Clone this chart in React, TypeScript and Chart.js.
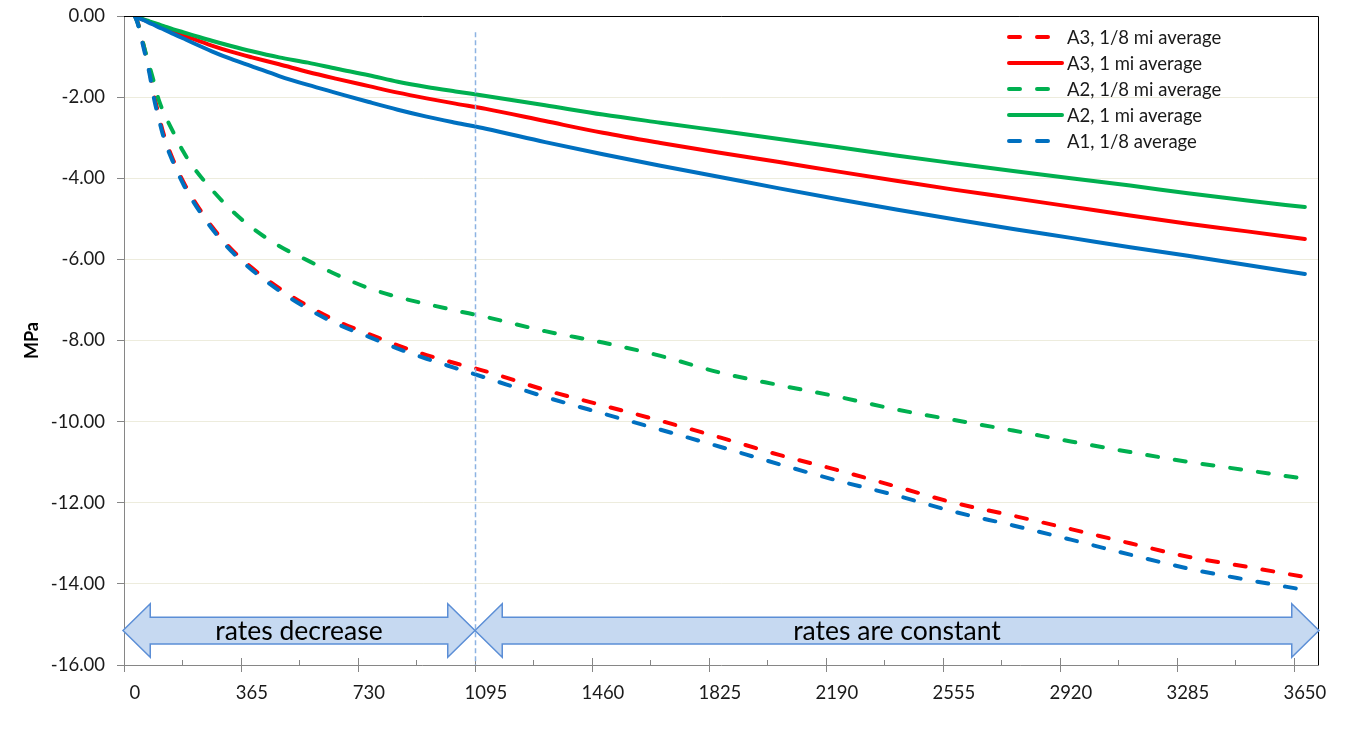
import React, { useEffect, useRef } from "react";
import { Chart, registerables } from "chart.js";

Chart.register(...registerables);

// ---- data (days since start, MPa) ----
const DAYS = [0, 10, 20, 30, 45, 60, 75, 90, 120, 150, 180, 240, 300, 365, 450, 540, 630, 730, 820, 910, 1000, 1095, 1280, 1460, 1640, 1825, 2010, 2190, 2375, 2555, 2740, 2920, 3105, 3285, 3470, 3650];

const A3_EIGHTH = [0, -0.18, -0.5, -0.82, -1.33, -1.95, -2.47, -2.92, -3.56, -4.07, -4.49, -5.19, -5.74, -6.21, -6.71, -7.15, -7.52, -7.84, -8.12, -8.36, -8.56, -8.76, -9.22, -9.6, -9.98, -10.39, -10.82, -11.19, -11.6, -12.0, -12.32, -12.65, -13.0, -13.33, -13.58, -13.83];
const A3_MILE = [0, -0.03, -0.07, -0.1, -0.15, -0.2, -0.25, -0.29, -0.38, -0.47, -0.56, -0.73, -0.88, -1.02, -1.19, -1.38, -1.55, -1.73, -1.89, -2.03, -2.16, -2.29, -2.59, -2.88, -3.13, -3.37, -3.6, -3.83, -4.06, -4.28, -4.49, -4.7, -4.92, -5.12, -5.31, -5.5];
const A2_EIGHTH = [0, -0.2, -0.5, -0.8, -1.22, -1.65, -2.08, -2.38, -2.87, -3.33, -3.7, -4.28, -4.78, -5.22, -5.67, -6.03, -6.38, -6.71, -6.93, -7.1, -7.26, -7.42, -7.77, -8.05, -8.38, -8.79, -9.1, -9.38, -9.7, -9.96, -10.22, -10.49, -10.75, -10.99, -11.2, -11.41];
const A2_MILE = [0, -0.03, -0.06, -0.09, -0.13, -0.17, -0.21, -0.25, -0.33, -0.4, -0.47, -0.61, -0.74, -0.87, -1.02, -1.15, -1.3, -1.46, -1.62, -1.75, -1.86, -1.97, -2.2, -2.43, -2.63, -2.83, -3.03, -3.23, -3.44, -3.63, -3.82, -4.0, -4.18, -4.37, -4.55, -4.71];
const A1_EIGHTH = [0, -0.22, -0.55, -0.88, -1.4, -2.05, -2.55, -3.0, -3.62, -4.13, -4.55, -5.24, -5.79, -6.26, -6.77, -7.22, -7.59, -7.91, -8.2, -8.45, -8.68, -8.92, -9.39, -9.8, -10.2, -10.62, -11.05, -11.45, -11.82, -12.22, -12.56, -12.91, -13.28, -13.62, -13.9, -14.15];
const A1_MILE = [0, -0.04, -0.08, -0.11, -0.17, -0.22, -0.28, -0.33, -0.44, -0.55, -0.66, -0.87, -1.06, -1.24, -1.48, -1.7, -1.9, -2.12, -2.31, -2.48, -2.63, -2.78, -3.11, -3.41, -3.69, -3.97, -4.25, -4.51, -4.77, -5.01, -5.25, -5.47, -5.7, -5.91, -6.14, -6.36];

const SERIES_LABELS = ["A3, 1/8 mi average", "A3, 1 mi average", "A2, 1/8 mi average", "A2, 1 mi average", "A1, 1/8 average", "A1, 1 mi average"];
const LEGEND_COUNT = 5; // the last series has no legend entry

const X_TICKS = [0, 365, 730, 1095, 1460, 1825, 2190, 2555, 2920, 3285, 3650];
const Y_TICKS = [0, -2, -4, -6, -8, -10, -12, -14, -16];
const Y_TITLE = "MPa";
const PHASE_SPLIT = 1095;
const PHASE_LABELS = ["rates decrease", "rates are constant"];

// ---- styling ----
const RED = "#FF0000";
const GREEN = "#00B050";
const BLUE = "#0070C0";
const FONT = "Lato, 'Open Sans', sans-serif";
const AXIS_GRAY = "#868686";
const X_MIN = -34;
const X_MAX = 3691;
const TICK_SHIFT = 34; // tick marks sit between categories (Excel style)
const ARROW_CENTER = -15.15;
const ARROW_BODY_HALF = 0.33;
const ARROW_HEAD_HALF = 0.66;
const ARROW_HEAD_DAYS = 85;

const DASH = [11, 17];

function makeSet(i: number, values: number[], color: string, dashed: boolean) {
  return {
    label: SERIES_LABELS[i],
    data: DAYS.map((d, k) => ({ x: d, y: values[k] })),
    borderColor: color,
    backgroundColor: color,
    borderWidth: 4,
    borderDash: dashed ? DASH : [],
    borderCapStyle: "round" as const,
    borderJoinStyle: "round" as const,
    pointRadius: 0,
    cubicInterpolationMode: "monotone" as const,
    fill: false,
    order: 6 - i,
  };
}

const decorPlugin = {
  id: "decor",
  afterDatasetsDraw(chart: any) {
    const { ctx, chartArea: ca, scales } = chart;
    const xs = scales.x;
    const ys = scales.y;
    ctx.save();

    // frame (top & right)
    ctx.strokeStyle = "#000";
    ctx.lineWidth = 1;
    ctx.setLineDash([]);
    ctx.beginPath();
    ctx.moveTo(ca.left, ca.top + 0.5);
    ctx.lineTo(ca.right + 0.5, ca.top + 0.5);
    ctx.lineTo(ca.right + 0.5, ca.bottom);
    ctx.stroke();

    // x tick marks
    ctx.strokeStyle = AXIS_GRAY;
    X_TICKS.forEach((v, i) => {
      const px = Math.round(xs.getPixelForValue(v - TICK_SHIFT)) + 0.5;
      ctx.beginPath();
      ctx.moveTo(px, ca.bottom - 7);
      ctx.lineTo(px, ca.bottom + 7);
      ctx.stroke();
      if (i < X_TICKS.length - 1) {
        const mv = (v + X_TICKS[i + 1]) / 2 - TICK_SHIFT;
        const mx = Math.round(xs.getPixelForValue(mv)) + 0.5;
        ctx.beginPath();
        ctx.moveTo(mx, ca.bottom - 5);
        ctx.lineTo(mx, ca.bottom);
        ctx.stroke();
      }
    });

    // arrows
    const splitPx = xs.getPixelForValue(PHASE_SPLIT - TICK_SHIFT);
    const yc = ys.getPixelForValue(ARROW_CENTER);
    const bodyH = Math.abs(ys.getPixelForValue(ARROW_CENTER + ARROW_BODY_HALF) - yc);
    const headH = Math.abs(ys.getPixelForValue(ARROW_CENTER + ARROW_HEAD_HALF) - yc);
    const headL = xs.getPixelForValue(ARROW_HEAD_DAYS) - xs.getPixelForValue(0);
    const drawArrow = (x0: number, x1: number, text: string) => {
      ctx.beginPath();
      ctx.moveTo(x0, yc);
      ctx.lineTo(x0 + headL, yc - headH);
      ctx.lineTo(x0 + headL, yc - bodyH);
      ctx.lineTo(x1 - headL, yc - bodyH);
      ctx.lineTo(x1 - headL, yc - headH);
      ctx.lineTo(x1, yc);
      ctx.lineTo(x1 - headL, yc + headH);
      ctx.lineTo(x1 - headL, yc + bodyH);
      ctx.lineTo(x0 + headL, yc + bodyH);
      ctx.lineTo(x0 + headL, yc + headH);
      ctx.closePath();
      ctx.fillStyle = "#C6D9F1";
      ctx.fill();
      ctx.strokeStyle = "#5B8ED6";
      ctx.lineWidth = 1.5;
      ctx.lineJoin = "miter";
      ctx.stroke();
      ctx.fillStyle = "#000";
      ctx.font = `26.5px ${FONT}`;
      ctx.textAlign = "center";
      ctx.textBaseline = "middle";
      ctx.fillText(text, (x0 + x1) / 2, yc + 1);
    };
    drawArrow(ca.left - 1, splitPx, PHASE_LABELS[0]);
    drawArrow(splitPx, ca.right + 1, PHASE_LABELS[1]);

    // phase divider
    ctx.strokeStyle = "#8DB3E2";
    ctx.lineWidth = 1.5;
    ctx.setLineDash([5, 3]);
    ctx.beginPath();
    ctx.moveTo(Math.round(splitPx) + 0.5, ys.getPixelForValue(-0.4));
    ctx.lineTo(Math.round(splitPx) + 0.5, ca.bottom);
    ctx.stroke();

    // legend
    const lx0 = ca.right - 311;
    const lx1 = ca.right - 256;
    const tx = ca.right - 251;
    ctx.font = `18.5px ${FONT}`;
    ctx.textAlign = "left";
    ctx.textBaseline = "middle";
    chart.data.datasets.slice(0, LEGEND_COUNT).forEach((ds: any, i: number) => {
      const ly = ca.top + 21 + i * 26;
      ctx.strokeStyle = ds.borderColor;
      ctx.lineWidth = 4;
      ctx.lineCap = "round";
      ctx.setLineDash(ds.borderDash || []);
      ctx.beginPath();
      ctx.moveTo(lx0 + 2, ly);
      ctx.lineTo(lx1, ly);
      ctx.stroke();
      ctx.setLineDash([]);
      ctx.fillStyle = "#1a1a1a";
      ctx.fillText(ds.label, tx, ly + 1);
    });
    ctx.restore();
  },
};

export default function App() {
  const ref = useRef<HTMLCanvasElement | null>(null);
  useEffect(() => {
    if (!ref.current) return;
    const chart = new Chart(ref.current, {
      type: "line",
      data: {
        datasets: [
          makeSet(0, A3_EIGHTH, RED, true),
          makeSet(1, A3_MILE, RED, false),
          makeSet(2, A2_EIGHTH, GREEN, true),
          makeSet(3, A2_MILE, GREEN, false),
          makeSet(4, A1_EIGHTH, BLUE, true),
          makeSet(5, A1_MILE, BLUE, false),
        ],
      },
      options: {
        animation: false,
        responsive: false,
        layout: { padding: { left: 0, right: 32, top: 16, bottom: 0 } },
        plugins: { legend: { display: false }, tooltip: { enabled: false } },
        scales: {
          x: {
            type: "linear",
            min: X_MIN,
            max: X_MAX,
            afterBuildTicks: (s: any) => {
              s.ticks = X_TICKS.map((v) => ({ value: v }));
            },
            afterFit: (s: any) => {
              s.height = 78;
              s.paddingLeft = 0;
              s.paddingRight = 0;
            },
            grid: { display: false },
            border: { display: true, color: AXIS_GRAY, width: 1 },
            ticks: {
              autoSkip: false,
              maxRotation: 0,
              padding: 9,
              color: "#1a1a1a",
              font: { family: FONT, size: 18.5 },
              callback: (v: any) => String(v),
            },
          },
          y: {
            type: "linear",
            min: -16,
            max: 0,
            afterBuildTicks: (s: any) => {
              s.ticks = Y_TICKS.map((v) => ({ value: v }));
            },
            afterFit: (s: any) => {
              s.width = 124;
              s.paddingTop = 0;
              s.paddingBottom = 0;
            },
            grid: {
              color: "rgba(214,212,180,0.45)",
              tickColor: AXIS_GRAY,
              tickLength: 7,
              tickBorderDash: [],
            },
            border: { display: true, color: AXIS_GRAY, width: 1 },
            ticks: {
              padding: 12,
              color: "#1a1a1a",
              font: { family: FONT, size: 18.5 },
              callback: (v: any) => Number(v).toFixed(2),
            },
            title: {
              display: true,
              text: Y_TITLE,
              color: "#000",
              font: { family: FONT, size: 18, weight: "bold" },
              padding: { top: 21, bottom: 0 },
            },
          },
        },
      },
      plugins: [decorPlugin],
    } as any);
    return () => chart.destroy();
  }, []);
  return (
    <div style={{ position: "absolute", left: 0, top: 0, width: 1350, height: 743, background: "#fff" }}>
      <canvas ref={ref} width={1350} height={743} style={{ width: 1350, height: 743, display: "block" }} />
    </div>
  );
}
